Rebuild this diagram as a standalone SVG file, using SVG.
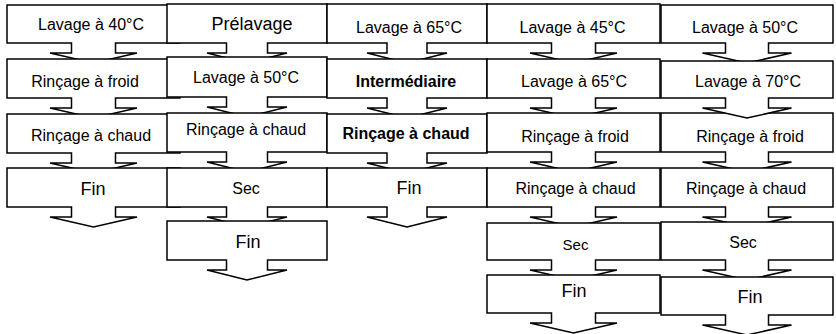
<svg xmlns="http://www.w3.org/2000/svg" width="836" height="334" viewBox="0 0 836 334">
<style>
.s{fill:#fff;stroke:#000;stroke-width:1.5;stroke-linejoin:miter}
text{font-family:"Liberation Sans",Arial,sans-serif;font-size:16px;text-anchor:middle;fill:#000}
.b{font-weight:bold}
.l{font-size:18px}
</style>
<rect width="836" height="334" fill="#fff"/>
<g id="col1">
<g id="c1r1"><path class="s" d="M7,5H180V43H115.5V53H137L93.5,63L50,53H71.5V43H7Z"/><text x="91" y="29.5">Lavage à 40°C</text></g>
<g id="c1r2"><path class="s" d="M7,59H180V98H115.5V108H137L93.5,118L50,108H71.5V98H7Z"/><text x="85" y="87">Rinçage à froid</text></g>
<g id="c1r3"><path class="s" d="M7,114H180V153H115.5V163H137L93.5,173L50,163H71.5V153H7Z"/><text x="91" y="141">Rinçage à chaud</text></g>
<g id="c1r4"><path class="s" d="M7,168H180V207H115.5V217H137L93.5,227L50,217H71.5V207H7Z"/><text class="l" x="93" y="195">Fin</text></g>
</g>
<g id="col2">
<g id="c2r1"><path class="s" d="M167,4H327V43H267.5V53H287L247,63L207,53H226.5V43H167Z"/><text class="l" x="252" y="29.5">Prélavage</text></g>
<g id="c2r2"><path class="s" d="M167,57H327V97H267.5V107H287L247,117L207,107H226.5V97H167Z"/><text x="246" y="82.5">Lavage à 50°C</text></g>
<g id="c2r3"><path class="s" d="M167,113H327V152H267.5V162H287L247,172L207,162H226.5V152H167Z"/><text x="246" y="135">Rinçage à chaud</text></g>
<g id="c2r4"><path class="s" d="M167,168H327V207H267.5V217H287L247,227L207,217H226.5V207H167Z"/><text x="246" y="194">Sec</text></g>
<g id="c2r5"><path class="s" d="M167,221H327V260H267.5V270H287L247,280L207,270H226.5V260H167Z"/><text class="l" x="248" y="248">Fin</text></g>
</g>
<g id="col3">
<g id="c3r1"><path class="s" d="M327,4H487V43H427V53H447L407,63L367,53H387V43H327Z"/><text x="409" y="33">Lavage à 65°C</text></g>
<g id="c3r2"><path class="s" d="M327,59H487V98H427V108H447L407,118L367,108H387V98H327Z"/><text class="b" x="406" y="86.5">Intermédiaire</text></g>
<g id="c3r3"><path class="s" d="M327,114H487V153H427V163H447L407,173L367,163H387V153H327Z"/><text class="b" x="406" y="138.5">Rinçage à chaud</text></g>
<g id="c3r4"><path class="s" d="M327,168H487V207H427V217H447L407,227L367,217H387V207H327Z"/><text class="l" x="409" y="194">Fin</text></g>
</g>
<g id="col4">
<g id="c4r1"><path class="s" d="M487,4H660V43H595.5V53H617L573.5,63L530,53H551.5V43H487Z"/><text x="572.5" y="32.5">Lavage à 45°C</text></g>
<g id="c4r2"><path class="s" d="M487,59H660V98H595.5V108H617L573.5,118L530,108H551.5V98H487Z"/><text x="574" y="87">Lavage à 65°C</text></g>
<g id="c4r3"><path class="s" d="M487,113H660V152H595.5V162H617L573.5,172L530,162H551.5V152H487Z"/><text x="575" y="141.5">Rinçage à froid</text></g>
<g id="c4r4"><path class="s" d="M487,168H660V207H595.5V217H617L573.5,227L530,217H551.5V207H487Z"/><text x="575.5" y="193.5">Rinçage à chaud</text></g>
<g id="c4r5"><path class="s" d="M487,223H660V260H595.5V270H617L573.5,280L530,270H551.5V260H487Z"/><text x="575.5" y="250" style="font-size:15px">Sec</text></g>
<g id="c4r6"><path class="s" d="M487,275H660V313H595.5V323H617L573.5,333L530,323H551.5V313H487Z"/><text class="l" x="574" y="297">Fin</text></g>
</g>
<g id="col5">
<g id="c5r1"><path class="s" d="M661,5H833V43H768.5V53H791.5L747,63L702.5,53H725.5V43H661Z"/><text x="745" y="32.5">Lavage à 50°C</text></g>
<g id="c5r3"><path class="s" d="M661,113H833V152H768.5V162H791.5L747,172L702.5,162H725.5V152H661Z"/><text x="750" y="142">Rinçage à froid</text></g>
<g id="c5r2"><path class="s" d="M661,61H833V98H768.5V108H791.5L747,118L702.5,108H725.5V98H661Z"/><text x="748" y="87">Lavage à 70°C</text></g>
<g id="c5r4"><path class="s" d="M661,168H833V207H768.5V217H791.5L747,227L702.5,217H725.5V207H661Z"/><text x="746" y="193.5">Rinçage à chaud</text></g>
<g id="c5r5"><path class="s" d="M661,222H833V260H768.5V270H791.5L747,280L702.5,270H725.5V260H661Z"/><text x="743" y="247.5">Sec</text></g>
<g id="c5r6"><path class="s" d="M661,277H833V315H768.5V325H791.5L747,335L702.5,325H725.5V315H661Z"/><text class="l" x="750" y="302.5">Fin</text></g>
</g>
<g id="connectors"></g>
</svg>
